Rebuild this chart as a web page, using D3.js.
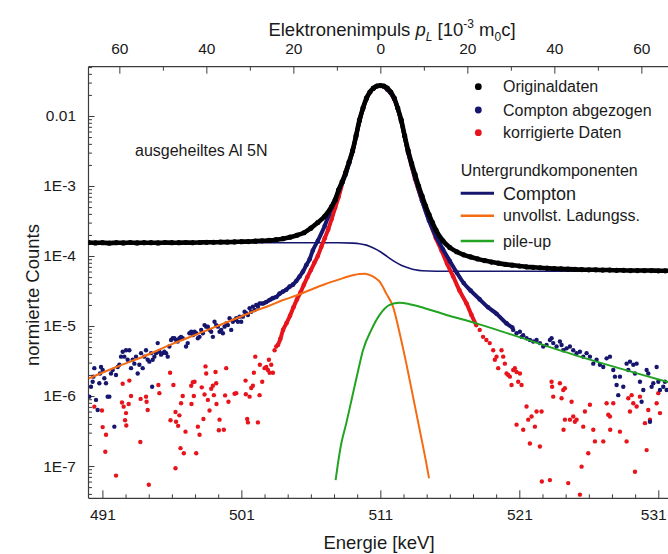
<!DOCTYPE html>
<html lang="de">
<head>
<meta charset="utf-8">
<title>Doppler-Spektrum Al 5N</title>
<script src="https://d3js.org/d3.v7.min.js"></script>
<style>
  body { margin: 0; background: #fff; }
  text { font-family: "Liberation Sans", Arial, sans-serif; fill: #1a1a1a; }
</style>
</head>
<body>
<svg id="chart" width="668" height="554"></svg>
<script>
// ---- data: [energy keV, normalised counts] ----

// Originaldaten (dense, looks like a thick dotted curve)
var originalData = [[490.0,1.56e-4],[490.5,1.54e-4],[491.0,1.55e-4],[491.5,1.53e-4],[492.0,1.55e-4],[492.5,1.54e-4],[493.0,1.56e-4],[493.5,1.54e-4],[494.0,1.55e-4],[494.5,1.55e-4],[495.0,1.54e-4],[495.5,1.56e-4],[496.0,1.55e-4],[496.5,1.55e-4],[497.0,1.56e-4],[497.5,1.55e-4],[498.0,1.56e-4],[498.5,1.57e-4],[499.0,1.57e-4],[499.5,1.58e-4],[500.0,1.58e-4],[500.5,1.59e-4],[501.0,1.6e-4],[501.5,1.61e-4],[502.0,1.63e-4],[502.5,1.65e-4],[503.0,1.67e-4],[503.5,1.71e-4],[504.0,1.77e-4],[504.5,1.86e-4],[505.0,1.98e-4],[505.5,2.15e-4],[506.0,2.5e-4],[506.5,3.0e-4],[507.0,3.7e-4],[507.5,5.1e-4],[507.75,6.3e-4],[508.0,8.8e-4],[508.25,1.15e-3],[508.5,1.55e-3],[508.75,2.2e-3],[509.0,3.2e-3],[509.25,5.2e-3],[509.5,8.8e-3],[509.75,1.3e-2],[510.0,1.8e-2],[510.25,2.2e-2],[510.5,2.5e-2],[510.75,2.68e-2],[511.0,2.72e-2],[511.25,2.68e-2],[511.5,2.5e-2],[511.75,2.2e-2],[512.0,1.8e-2],[512.25,1.3e-2],[512.5,8.8e-3],[512.75,5.2e-3],[513.0,3.2e-3],[513.25,2.1e-3],[513.5,1.45e-3],[513.75,1.0e-3],[514.0,7.2e-4],[514.25,5.2e-4],[514.5,3.9e-4],[514.75,3.0e-4],[515.0,2.35e-4],[515.5,1.65e-4],[516.0,1.32e-4],[516.5,1.15e-4],[517.0,1.04e-4],[517.5,9.7e-5],[518.0,9.1e-5],[518.5,8.6e-5],[519.0,8.2e-5],[519.5,7.9e-5],[520.0,7.6e-5],[520.5,7.4e-5],[521.0,7.2e-5],[521.5,7.0e-5],[522.0,6.9e-5],[522.5,6.8e-5],[523.0,6.7e-5],[523.5,6.6e-5],[524.0,6.55e-5],[524.5,6.5e-5],[525.0,6.45e-5],[525.5,6.4e-5],[526.0,6.35e-5],[526.5,6.35e-5],[527.0,6.3e-5],[527.5,6.3e-5],[528.0,6.25e-5],[528.5,6.25e-5],[529.0,6.2e-5],[529.5,6.2e-5],[530.0,6.2e-5],[530.5,6.2e-5],[531.0,6.15e-5],[531.5,6.15e-5],[532.0,6.15e-5]];

// Compton abgezogen: dense middle part and scattered tails
var comptonSubDense = [[502.31,2.1e-5],[502.55,2.1e-5],[502.79,2.2e-5],[503.03,2.35e-5],[503.27,2.5e-5],[503.51,2.6e-5],[503.75,2.9e-5],[503.99,3.1e-5],[504.23,3.3e-5],[504.47,3.65e-5],[504.71,3.9e-5],[504.95,4.4e-5],[505.19,5.1e-5],[505.43,6.0e-5],[505.67,7.4e-5],[505.91,9.0e-5],[506.14,1.2e-4],[506.5,1.65e-4],[507.0,2.7e-4],[507.3,3.9e-4],[507.6,5.6e-4],[508.0,8.5e-4],[508.25,1.1e-3],[508.5,1.45e-3],[508.75,2.1e-3],[509.0,3.1e-3],[509.5,8.5e-3],[510.0,1.75e-2],[510.5,2.5e-2],[511.0,2.7e-2],[511.5,2.4e-2],[512.0,1.75e-2],[512.5,8.5e-3],[513.0,3.0e-3],[513.5,1.3e-3],[514.0,6.2e-4],[514.5,3.2e-4],[515.0,1.9e-4],[515.5,1.25e-4],[516.0,8.5e-5],[516.5,5.8e-5],[517.0,4.1e-5],[517.5,3.2e-5],[518.15,2.4e-5],[518.75,1.85e-5],[519.36,1.5e-5],[520.08,1.09e-5],[520.5,9.5e-6]];

var comptonSubLeft = [[490.06,9.8e-7],[490.18,1.36e-6],[490.30,1.6e-6],[490.35,1.89e-6],[490.42,2.5e-6],[490.54,8.8e-7],[490.66,6.3e-7],[490.78,1.52e-6],[490.83,2.1e-6],[490.90,2.6e-6],[491.02,2.35e-6],[491.14,1.79e-6],[491.26,1.52e-6],[491.38,9.8e-7],[491.50,9.8e-7],[491.62,2.1e-6],[491.74,2.35e-6],[491.86,3.65e-7],[491.98,2.0e-6],[492.10,2.6e-6],[492.22,2.8e-6],[492.34,3.65e-6],[492.46,4.3e-6],[492.58,3.65e-6],[492.70,4.5e-6],[492.82,3.3e-6],[492.94,4.5e-6],[493.06,2.5e-6],[493.18,3.3e-6],[493.30,2.9e-6],[493.42,3.65e-6],[493.54,2.1e-6],[493.66,2.8e-6],[493.78,4.1e-6],[493.90,2.5e-6],[494.02,3.65e-6],[494.14,4.5e-6],[494.26,3.3e-6],[494.38,3.1e-6],[494.50,4.1e-6],[494.58,1.36e-6],[494.62,3.3e-6],[494.74,3.65e-6],[494.86,4.1e-6],[494.98,5.7e-6],[495.10,4.3e-6],[495.22,3.9e-6],[495.34,4.1e-6],[495.46,4.3e-6],[495.58,4.1e-6],[495.70,3.65e-6],[495.82,5.1e-6],[495.94,6.3e-6],[496.06,6.7e-6],[496.18,6.7e-6],[496.30,6.3e-6],[496.42,6.0e-6],[496.54,6.7e-6],[496.66,7.0e-6],[496.78,6.7e-6],[497.02,5.1e-6],[497.14,5.7e-6],[497.26,7.9e-6],[497.39,8.3e-6],[497.51,7.4e-6],[497.63,8.3e-6],[497.75,7.9e-6],[497.87,6.7e-6],[497.99,7.0e-6],[498.11,8.8e-6],[498.23,7.9e-6],[498.35,1.03e-5],[498.47,9.8e-6],[498.59,9.8e-6],[498.71,8.8e-6],[498.83,8.3e-6],[498.95,7.0e-6],[499.07,1.15e-5],[499.19,1.03e-5],[499.31,9.8e-6],[499.43,8.3e-6],[499.55,8.8e-6],[499.67,7.9e-6],[499.79,9.8e-6],[499.91,1.09e-5],[500.03,1.03e-5],[500.15,1.29e-5],[500.27,8.8e-6],[500.39,1.15e-5],[500.51,1.22e-5],[500.63,1.29e-5],[500.75,1.15e-5],[500.87,1.36e-5],[500.99,1.15e-5],[501.11,1.36e-5],[501.23,1.6e-5],[501.35,1.52e-5],[501.47,1.44e-5],[501.59,1.79e-5],[501.71,1.6e-5],[501.83,1.89e-5],[501.95,1.69e-5],[502.07,2.0e-5],[502.19,1.89e-5]];

var comptonSubRight = [[520.56,8.8e-6],[520.80,7.9e-6],[521.04,8.3e-6],[521.16,7.0e-6],[521.28,7.4e-6],[521.52,6.7e-6],[521.76,6.3e-6],[522.0,6.0e-6],[522.24,6.3e-6],[522.48,5.7e-6],[522.72,5.1e-6],[522.96,5.35e-6],[523.20,6.3e-6],[523.32,6.7e-6],[523.44,5.7e-6],[523.68,5.1e-6],[523.92,6.0e-6],[524.04,5.35e-6],[524.16,4.5e-6],[524.40,4.8e-6],[524.64,5.1e-6],[524.88,4.5e-6],[525.12,4.1e-6],[525.36,4.3e-6],[525.60,3.65e-6],[525.84,4.1e-6],[526.08,3.65e-6],[526.32,2.9e-6],[526.56,3.3e-6],[526.80,2.8e-6],[527.04,2.6e-6],[527.28,3.45e-6],[527.52,3.65e-6],[527.76,2.35e-6],[527.88,1.89e-6],[528.0,1.44e-6],[528.12,1.03e-6],[528.24,1.89e-6],[528.48,1.36e-6],[528.72,2.9e-6],[528.84,2.35e-6],[528.96,3.1e-6],[529.20,2.8e-6],[529.32,2.1e-6],[529.44,2.9e-6],[529.68,1.6e-6],[529.80,8.3e-7],[529.92,1.22e-6],[530.16,2.35e-6],[530.28,2.1e-6],[530.40,4.3e-7],[530.52,1.36e-6],[530.64,1.52e-6],[530.88,2.6e-6],[531.0,1.6e-6],[531.12,1.22e-6],[531.36,1.36e-6],[531.48,1.6e-6],[531.6,1.22e-6]];

// korrigierte Daten: dense middle part and scattered tails
var correctedDense = [[503.63,5.35e-6],[503.8,6.5e-6],[504.0,8.8e-6],[504.25,1.1e-5],[504.5,1.4e-5],[504.75,1.85e-5],[505.0,2.4e-5],[505.25,3.0e-5],[505.5,3.9e-5],[505.75,5.0e-5],[506.0,6.3e-5],[506.25,8.0e-5],[506.5,1.0e-4],[506.75,1.35e-4],[507.0,1.8e-4],[507.25,2.4e-4],[507.5,3.4e-4],[507.75,4.9e-4],[508.0,7.0e-4],[508.3,1.15e-3],[508.6,1.8e-3],[509.0,3.1e-3],[509.5,8.5e-3],[510.0,1.75e-2],[510.5,2.5e-2],[511.0,2.7e-2],[511.5,2.4e-2],[512.0,1.75e-2],[512.5,8.5e-3],[513.0,3.0e-3],[513.5,1.25e-3],[514.0,6.2e-4],[514.5,3.3e-4],[515.0,1.8e-4],[515.4,1.2e-4],[515.8,7.8e-5],[516.24,5.1e-5],[516.7,3.2e-5],[517.2,2.1e-5],[517.55,1.45e-5],[517.9,1.03e-5]];

var correctedLeft = [[490.42,7.05e-7],[490.97,6.2e-7],[491.02,3.6e-7],[491.26,2.8e-7],[491.21,1.6e-7],[491.98,7.3e-8],[492.46,1.5e-6],[492.41,8.1e-7],[492.53,7.05e-7],[492.70,5.7e-7],[492.63,4.5e-7],[492.72,3.8e-7],[492.94,1.66e-6],[493.06,1.0e-6],[492.89,7.7e-7],[493.73,2.2e-7],[493.75,9.1e-7],[494.14,9.8e-7],[494.18,8.3e-7],[494.26,6.3e-7],[494.34,5.4e-8],[495.03,1.44e-6],[495.10,1.1e-6],[495.87,2.15e-6],[496.11,1.44e-6],[495.90,4.5e-7],[496.26,5.9e-7],[496.30,4.3e-7],[496.45,3.75e-7],[496.54,5.3e-7],[496.66,7.9e-7],[496.78,1.0e-6],[496.62,1.8e-7],[496.86,1.52e-7],[496.98,3.1e-7],[496.26,9.3e-8],[497.39,1.4e-6],[497.51,1.57e-6],[497.63,1.6e-6],[497.41,7.7e-7],[497.58,1.0e-6],[497.75,1.52e-7],[497.87,3.65e-7],[497.99,2.8e-7],[498.15,1.33e-6],[498.27,4.7e-7],[498.42,2.65e-6],[498.47,2.1e-6],[498.35,1.05e-6],[498.59,8.8e-7],[498.71,6.2e-7],[498.83,1.27e-6],[498.95,1.4e-6],[499.02,1.03e-6],[499.14,2.2e-6],[499.19,1.52e-6],[499.21,7.7e-7],[499.38,3.25e-7],[499.43,4.6e-7],[499.74,3.3e-7],[499.83,1.02e-6],[499.91,2.5e-6],[500.07,8.3e-7],[500.51,1.08e-6],[500.63,1.1e-6],[501.30,1.66e-6],[501.32,1.06e-6],[501.42,4.7e-7],[501.47,4.2e-7],[501.59,9.8e-7],[501.71,1.3e-6],[501.83,1.4e-6],[501.90,2.15e-6],[502.0,3.65e-6],[502.19,4.2e-7],[502.31,1.03e-6],[502.33,2.8e-6],[502.50,1.6e-6],[502.67,2.5e-6],[502.79,2.6e-6],[502.91,2.35e-6],[502.98,3.3e-6],[503.03,2.15e-6],[503.15,2.8e-6],[503.27,2.15e-6],[503.39,4.5e-6],[503.51,5.1e-6]];

var correctedRight = [[518.15,8.8e-6],[518.39,7.0e-6],[518.63,6.3e-6],[518.87,5.7e-6],[519.12,4.5e-6],[519.36,3.65e-6],[519.24,3.3e-6],[519.48,2.5e-6],[519.72,4.5e-6],[519.84,3.65e-6],[519.96,2.9e-6],[520.08,2.1e-6],[520.20,2.0e-6],[520.32,1.89e-6],[520.44,1.44e-6],[520.56,2.35e-6],[520.68,2.5e-6],[520.80,2.2e-6],[520.92,1.6e-6],[521.04,2.1e-6],[521.16,1.44e-6],[520.80,3.9e-7],[521.28,3.3e-7],[521.52,7.1e-7],[521.64,4.6e-7],[521.76,2.1e-7],[521.88,5.1e-7],[522.12,3.65e-7],[522.24,6.0e-7],[522.48,1.9e-7],[522.60,6.0e-7],[522.62,6.0e-8],[523.20,6.3e-8],[523.32,1.6e-6],[523.36,1.36e-6],[523.44,9.8e-7],[523.92,1.52e-6],[524.04,9.3e-7],[524.16,1.22e-6],[524.28,1.29e-6],[524.18,3.3e-7],[524.28,4.6e-7],[524.52,5.7e-8],[524.64,4.6e-7],[524.76,8.3e-7],[524.88,5.1e-7],[525.0,4.3e-7],[525.12,4.6e-7],[525.36,3.9e-8],[525.48,9.8e-8],[525.6,3.65e-7],[525.72,6.0e-7],[525.96,1.52e-7],[526.08,7.5e-7],[526.32,3.3e-7],[526.44,2.25e-7],[527.04,2.25e-7],[527.28,7.9e-7],[527.40,5.4e-7],[527.52,5.1e-7],[527.54,3.3e-7],[527.76,7.9e-7],[528.24,3.1e-7],[528.72,2.25e-7],[528.84,9.3e-7],[528.96,6.0e-7],[529.08,1.03e-6],[529.2,7.9e-7],[529.32,8.3e-8],[529.44,7.1e-7],[529.68,9.8e-7],[530.04,4.1e-7],[530.16,1.69e-7],[530.28,6.3e-7],[530.4,4.6e-7],[530.88,7.9e-7],[531.0,1.1e-6],[531.12,5.7e-7]];

// Untergrundkomponenten
var comptonBg = [[490,1.55e-4],[508,1.55e-4],[509,1.53e-4],[509.5,1.5e-4],[510,1.43e-4],[510.5,1.3e-4],[511,1.15e-4],[511.5,9.8e-5],[512,8.4e-5],[512.5,7.4e-5],[513,6.8e-5],[513.5,6.35e-5],[514,6.15e-5],[515,6.07e-5],[532,6.05e-5]];
var incompleteCharge = [[490,1.78e-6],[492,2.6e-6],[494,3.7e-6],[496,5.5e-6],[498,7.9e-6],[500,1.14e-5],[502,1.65e-5],[503,1.95e-5],[504,2.35e-5],[505,2.75e-5],[506,3.3e-5],[507,3.95e-5],[508,4.6e-5],[509,5.3e-5],[509.5,5.55e-5],[509.9,5.6e-5],[510.3,5.3e-5],[510.6,4.9e-5],[510.95,4.3e-5],[511.43,2.9e-5],[511.91,1.89e-5],[512.39,7.9e-6],[512.87,2.9e-6],[513.35,9.8e-7],[513.83,3.3e-7],[514.31,1.09e-7],[514.5,6.7e-8]];
var pileUp = [[507.78,6.3e-8],[507.95,1.09e-7],[508.19,2.1e-7],[508.55,4.1e-7],[509.03,1.09e-6],[509.4,2.3e-6],[509.75,4.5e-6],[510.35,8.8e-6],[510.95,1.44e-5],[511.67,2.0e-5],[512.39,2.15e-5],[513.1,2.05e-5],[513.83,1.89e-5],[515.75,1.44e-5],[517.91,1.09e-5],[520.56,7.4e-6],[525.36,3.65e-6],[531.6,1.6e-6],[532,1.52e-6]];

// axis ticks
var energyTicks = [491, 501, 511, 521, 531];
var momentumTicks = [-60, -40, -20, 0, 20, 40, 60];
var momentumMinor = [-50, -30, -10, 10, 30, 50];
var countTicks = [1e-7, 1e-6, 1e-5, 1e-4, 1e-3, 1e-2];

// ---- chart ----
var colBlack = '#000000', colNavy = '#16166f', colRed = '#e8141c', colOrange = '#f46b14', colGreen = '#22a322';
var axisColor = '#3c3c3c';

var plotL = 88.5, plotR = 672.2, plotT = 66.7, plotB = 498.3;
var svg = d3.select('#chart');

var x = d3.scaleLinear().domain([490, 532]).range([plotL, plotR]);
var y = d3.scaleLog().domain([3.46e-8, 0.0506]).range([plotB, plotT]);
// top axis: electron momentum p_L, zero at 511 keV
var keVPerUnit = 0.313;
var xTop = d3.scaleLinear().domain([(490 - 511) / keVPerUnit, (532 - 511) / keVPerUnit]).range([plotL, plotR]);

svg.append('clipPath').attr('id', 'plotArea')
  .append('rect').attr('x', plotL).attr('y', plotT).attr('width', plotR - plotL).attr('height', plotB - plotT);

function styleAxis(g) {
  g.select('.domain').remove();
  g.selectAll('.tick line').attr('stroke', axisColor).attr('stroke-width', 1);
  g.selectAll('.tick text').attr('fill', '#1a1a1a').style('font-size', '15.5px');
}

// bottom axis
var minorE = d3.range(0, 25).map(function(i) { return 491 + i * 10 / 6; })
  .filter(function(d, i) { return i % 6 !== 0; });
svg.append('g').attr('transform', 'translate(0,' + plotB + ')')
  .call(d3.axisBottom(x).tickValues(minorE).tickFormat('').tickSize(-4).tickSizeOuter(0)).call(styleAxis);
var bottomAxis = svg.append('g').attr('transform', 'translate(0,' + plotB + ')')
  .call(d3.axisBottom(x).tickValues(energyTicks).tickFormat(d3.format('d')).tickSize(-8).tickSizeOuter(0).tickPadding(11))
  .call(styleAxis);
// last label sits at the window edge: nudge it in
bottomAxis.selectAll('.tick text').filter(function(d) { return d === 531; }).attr('dx', -5);

// top axis
svg.append('g').attr('transform', 'translate(0,' + plotT + ')')
  .call(d3.axisTop(xTop).tickValues(momentumMinor).tickFormat('').tickSize(-4).tickSizeOuter(0)).call(styleAxis);
svg.append('g').attr('transform', 'translate(0,' + plotT + ')')
  .call(d3.axisTop(xTop).tickValues(momentumTicks).tickFormat(function(d) { return Math.abs(d); })
    .tickSize(-7).tickSizeOuter(0).tickPadding(12.7))
  .call(styleAxis);

// left axis (log)
var minorY = [];
[-8, -7, -6, -5, -4, -3, -2].forEach(function(e) {
  for (var k = 2; k <= 9; k++) {
    var v = k * Math.pow(10, e);
    if (v > y.domain()[0] && v < y.domain()[1]) minorY.push(v);
  }
});
svg.append('g').attr('transform', 'translate(' + plotL + ',0)')
  .call(d3.axisLeft(y).tickValues(minorY).tickFormat('').tickSize(-3.5).tickSizeOuter(0)).call(styleAxis);
svg.append('g').attr('transform', 'translate(' + plotL + ',0)')
  .call(d3.axisLeft(y).tickValues(countTicks).tickSize(-6).tickSizeOuter(0).tickPadding(12.5)
    .tickFormat(function(d) { return d === 1e-2 ? '0.01' : '1E' + Math.round(Math.log10(d)); }))
  .call(styleAxis);

// frame
var frame = svg.append('g').attr('stroke', axisColor).attr('stroke-width', 1.2);
frame.append('line').attr('x1', plotL).attr('x2', plotL).attr('y1', plotT).attr('y2', plotB);
frame.append('line').attr('x1', plotL).attr('x2', plotR).attr('y1', plotT).attr('y2', plotT);
frame.append('line').attr('x1', plotL).attr('x2', plotR).attr('y1', plotB).attr('y2', plotB);
frame.append('line').attr('x1', plotR).attr('x2', plotR).attr('y1', plotT).attr('y2', plotB);

// plot content
var plot = svg.append('g').attr('clip-path', 'url(#plotArea)');
var line = d3.line().x(function(d) { return x(d[0]); }).y(function(d) { return y(d[1]); }).curve(d3.curveMonotoneX);

function drawLine(data, color, w) {
  plot.append('path').datum(data).attr('fill', 'none').attr('stroke', color)
    .attr('stroke-width', w).attr('stroke-linejoin', 'round').attr('d', line);
}
function drawDots(data, color, r) {
  plot.append('g').selectAll('circle').data(data).enter().append('circle')
    .attr('cx', function(d) { return x(d[0]); })
    .attr('cy', function(d) { return y(d[1]); })
    .attr('r', r).attr('fill', color);
}

drawLine(comptonBg, colNavy, 1.6);

drawDots(correctedLeft, colRed, 2.2);
drawDots(correctedRight, colRed, 2.2);
drawLine(correctedDense, colRed, 4);
drawDots(correctedDense, colRed, 2.3);

drawDots(comptonSubLeft, colNavy, 2.2);
drawDots(comptonSubRight, colNavy, 2.2);
drawLine(comptonSubDense, colNavy, 4);
drawDots(comptonSubDense, colNavy, 2.3);

drawLine(incompleteCharge, colOrange, 2);
drawLine(pileUp, colGreen, 2);

drawLine(originalData, colBlack, 4.6);
drawDots(originalData, colBlack, 2.6);

// annotation
svg.append('text').attr('x', 135).attr('y', 150).attr('dy', '0.35em').style('font-size', '16px').text('ausgeheiltes Al 5N');

// legend
var pointLegend = [
  {label: 'Originaldaten', color: colBlack, y: 86.7},
  {label: 'Compton abgezogen', color: colNavy, y: 110},
  {label: 'korrigierte Daten', color: colRed, y: 132.7}
];
var lineLegend = [
  {label: 'Compton', color: colNavy, y: 193.3, w: 3, size: '18px'},
  {label: 'unvollst. Ladungss.', color: colOrange, y: 215.7, w: 2.5, size: '16px'},
  {label: 'pile-up', color: colGreen, y: 241, w: 2.5, size: '16px'}
];
var legend = svg.append('g');
pointLegend.forEach(function(d) {
  legend.append('circle').attr('cx', 478.3).attr('cy', d.y).attr('r', 3.4).attr('fill', d.color);
  legend.append('text').attr('x', 503).attr('y', d.y).attr('dy', '0.35em').style('font-size', '16px').text(d.label);
});
legend.append('text').attr('x', 460.7).attr('y', 170).attr('dy', '0.35em').style('font-size', '16px').text('Untergrundkomponenten');
lineLegend.forEach(function(d) {
  legend.append('line').attr('x1', 460.7).attr('x2', 494).attr('y1', d.y).attr('y2', d.y)
    .attr('stroke', d.color).attr('stroke-width', d.w);
  legend.append('text').attr('x', 503).attr('y', d.y).attr('dy', '0.35em').style('font-size', d.size).text(d.label);
});

// axis titles
svg.append('text').attr('transform', 'translate(39,295) rotate(-90)').attr('text-anchor', 'middle')
  .style('font-size', '18.5px').text('normierte Counts');
svg.append('text').attr('x', 379).attr('y', 549).attr('text-anchor', 'middle')
  .style('font-size', '18.5px').text('Energie [keV]');

var topTitle = svg.append('text').attr('x', 392).attr('y', 36).attr('text-anchor', 'middle').style('font-size', '18.5px');
topTitle.append('tspan').text('Elektronenimpuls  ');
topTitle.append('tspan').style('font-style', 'italic').text('p');
topTitle.append('tspan').attr('dy', 5).style('font-style', 'italic').style('font-size', '12px').text('L');
topTitle.append('tspan').attr('dy', -5).text(' [10');
topTitle.append('tspan').attr('dy', -8).style('font-size', '12px').text('-3');
topTitle.append('tspan').attr('dy', 8).text(' m');
topTitle.append('tspan').attr('dy', 5).style('font-size', '12px').text('0');
topTitle.append('tspan').attr('dy', -5).text('c]');
</script>
</body>
</html>
